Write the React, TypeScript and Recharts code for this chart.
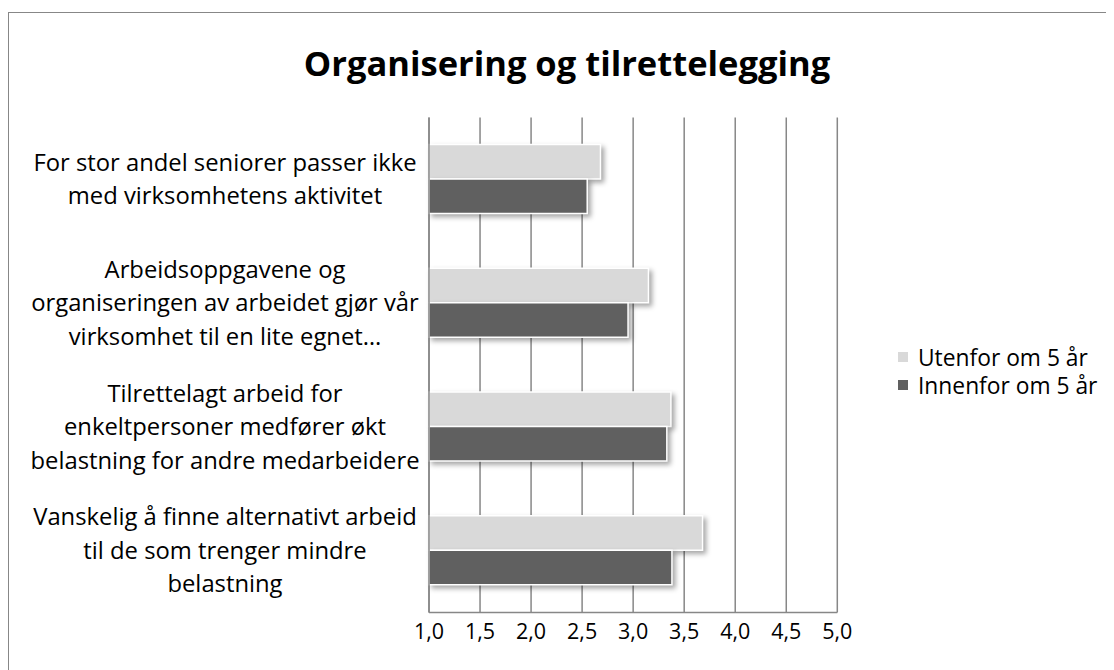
import { BarChart, Bar, XAxis, YAxis, CartesianGrid, Legend } from 'recharts'

// ============================================================================
// Organisering og tilrettelegging - horizontal grouped bars
// ============================================================================

const categories = [
    'For stor andel seniorer passer ikke\nmed virksomhetens aktivitet',
    'Arbeidsoppgavene og\norganiseringen av arbeidet gjør vår\nvirksomhet til en lite egnet…',
    'Tilrettelagt arbeid for\nenkeltpersoner medfører økt\nbelastning for andre medarbeidere',
    'Vanskelig å finne alternativt arbeid\ntil de som trenger mindre\nbelastning'
]
const utenfor = [2.68, 3.15, 3.37, 3.68]
const innenfor = [2.55, 2.95, 3.33, 3.38]
const xTicks = [1, 1.5, 2, 2.5, 3, 3.5, 4, 4.5, 5]
const seriesOrder = ['utenfor', 'innenfor']

const FONT = '"Open Sans", Lato, sans-serif'
const GRID = '#878787'

const chartData = categories.map((name, i) => ({
    name,
    utenfor: utenfor[i],
    innenfor: innenfor[i]
}))

function CategoryTick(props: any) {
    const { y, payload } = props
    const lines = String(payload.value).split('\n')
    const lineH = 33.5
    const startY = y - ((lines.length - 1) * lineH) / 2
    return (
        <text x={217} y={startY} textAnchor="middle" fontFamily={FONT} fontSize={23.8} fill="#000">
            {lines.map((l, i) => (
                <tspan key={i} x={217} y={startY + i * lineH} dy="0.35em">{l}</tspan>
            ))}
        </text>
    )
}

function ShadowBar(props: any) {
    const { x, y, width, height, fill } = props
    if (width <= 0) return null
    return (
        <rect
            x={x}
            y={y}
            width={width}
            height={height}
            fill={fill}
            stroke="#fff"
            strokeWidth={1.5}
            style={{ filter: 'drop-shadow(3px 3px 2.5px rgba(0,0,0,0.35))' }}
        />
    )
}

function LegendBox(props: any) {
    const items = [...(props.payload || [])].sort(
        (a: any, b: any) => seriesOrder.indexOf(a.dataKey) - seriesOrder.indexOf(b.dataKey)
    )
    return (
        <div style={{ fontFamily: FONT, fontSize: 22.8, color: '#000' }}>
            {items.map((p: any) => (
                <div key={p.value} style={{ display: 'flex', alignItems: 'center', height: 28 }}>
                    <span style={{ width: 10, height: 10, background: p.color, marginRight: 10, display: 'inline-block' }} />
                    <span>{p.value}</span>
                </div>
            ))}
        </div>
    )
}

export default function App() {
    return (
        <div style={{ position: 'relative', width: 1106, height: 662, overflow: 'hidden' }}>
            <div style={{
                position: 'absolute', left: 0, top: 4, width: 1200, height: 800,
                borderTop: `1.5px solid ${GRID}`, borderLeft: `1.5px solid ${GRID}`
            }} />
            <div style={{
                position: 'absolute', left: 0, top: 35, width: 1118, textAlign: 'center',
                fontFamily: FONT, fontWeight: 700, fontSize: 34.5, lineHeight: '40px', color: '#000'
            }}>
                Organisering og tilrettelegging
            </div>
            <div style={{ position: 'absolute', left: 0, top: 0 }}>
                <BarChart
                    width={1106}
                    height={650}
                    data={chartData}
                    layout="vertical"
                    margin={{ top: 109.5, right: 276.7, bottom: 0, left: 0 }}
                    barGap={0}
                    barSize={34.5}
                >
                    <CartesianGrid horizontal={false} stroke={GRID} strokeWidth={1.5} />
                    <XAxis
                        type="number"
                        domain={[1, 5]}
                        ticks={xTicks}
                        interval={0}
                        height={45.5}
                        tickFormatter={(v: number) => v.toFixed(1).replace('.', ',')}
                        axisLine={{ stroke: GRID, strokeWidth: 1.5 }}
                        tickLine={false}
                        tick={{ fontFamily: FONT, fontSize: 21.5, fill: '#000' }}
                        tickMargin={5}
                    />
                    <YAxis
                        type="category"
                        dataKey="name"
                        width={421}
                        axisLine={{ stroke: GRID, strokeWidth: 1.5 }}
                        tickLine={false}
                        tick={<CategoryTick />}
                        interval={0}
                    />
                    <Legend
                        layout="vertical"
                        align="center"
                        verticalAlign="middle"
                        content={<LegendBox />}
                        wrapperStyle={{ left: 890, top: 335, width: 220 }}
                    />
                    <Bar dataKey="utenfor" name="Utenfor om 5 år" fill="#d9d9d9" shape={<ShadowBar />} isAnimationActive={false} />
                    <Bar dataKey="innenfor" name="Innenfor om 5 år" fill="#606060" shape={<ShadowBar />} isAnimationActive={false} />
                </BarChart>
            </div>
        </div>
    )
}
